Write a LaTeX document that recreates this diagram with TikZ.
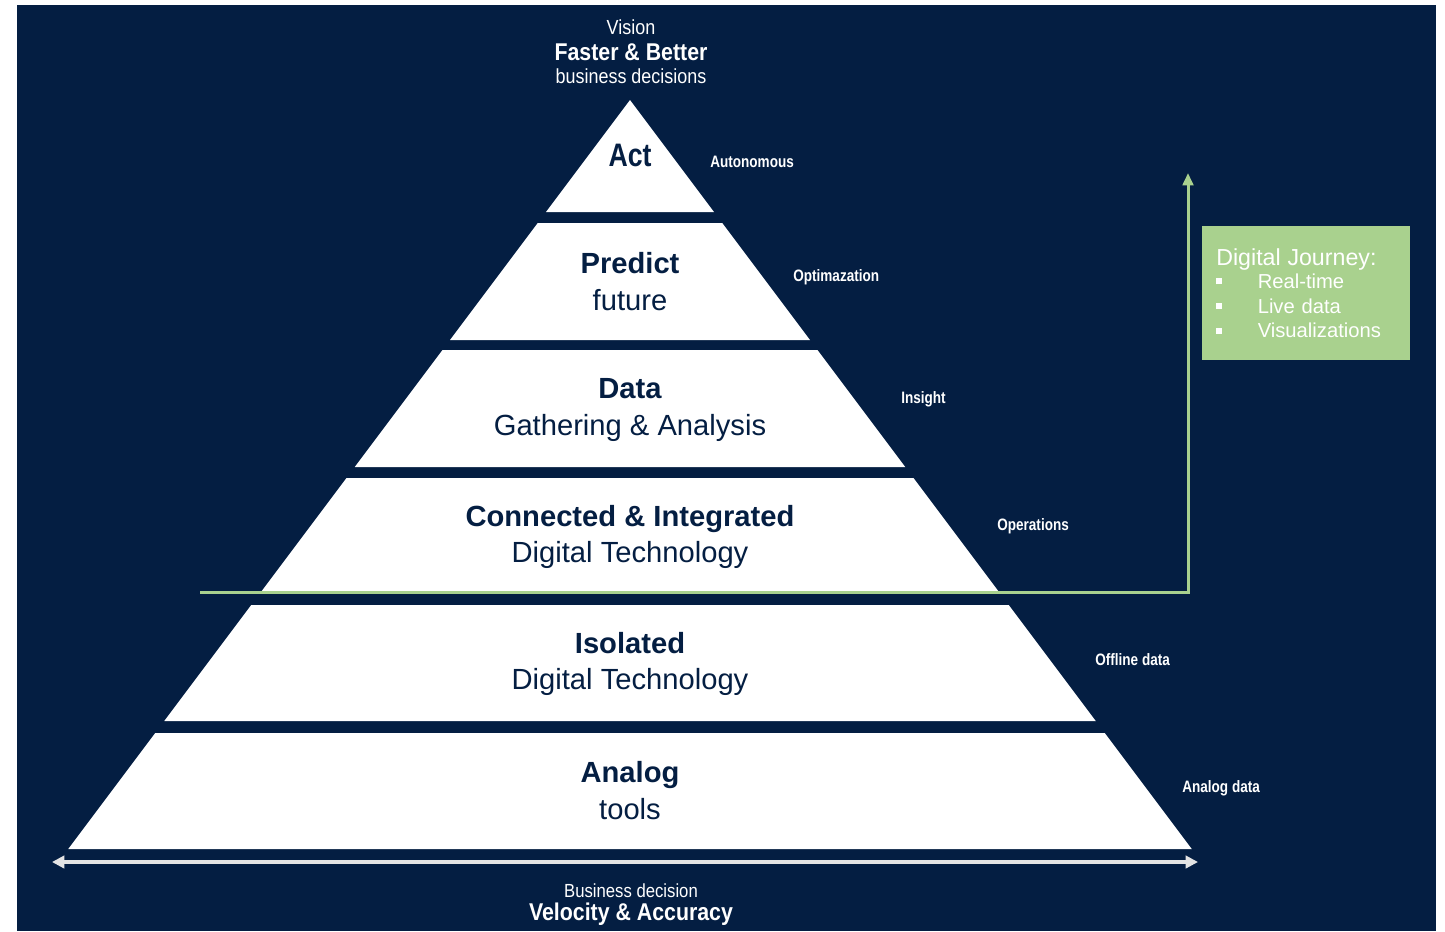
\documentclass[tikz,border=0pt]{standalone}
\usepackage{fontspec}
\setsansfont{Liberation Sans}
\newfontfamily\narrowfont[FakeStretch=0.82]{Liberation Sans}
\newfontfamily\headfont[FakeStretch=0.88]{Liberation Sans}
\usetikzlibrary{arrows.meta}

\definecolor{navy}{RGB}{4,30,66}
\definecolor{journeygreen}{RGB}{169,209,142}
\definecolor{scalegrey}{RGB}{228,228,228}

\tikzset{
  tier/.style={fill=white},
  tiertext/.style={text=navy, align=center, inner sep=0pt,
    font=\sffamily\fontsize{16.6}{21}\selectfont},
  sidelabel/.style={text=white, anchor=west, inner sep=0pt,
    font=\narrowfont\bfseries\fontsize{9.4}{11}\selectfont},
  headtext/.style={text=white, inner sep=0pt, font=\headfont\fontsize{11.6}{13}\selectfont},
  headbold/.style={text=white, inner sep=0pt, font=\headfont\bfseries\fontsize{13.8}{16}\selectfont},
  journey/.style={draw=journeygreen, line width=1.7pt,
    -{Triangle[length=7pt,width=6pt]}},
  scale line/.style={draw=scalegrey, line width=2pt,
    {Triangle[length=7pt,width=7pt]}-{Triangle[length=7pt,width=7pt]}},
  journeybox/.style={fill=journeygreen, text=white, anchor=north west,
    minimum width=4.16cm, minimum height=2.68cm, text width=3.6cm,
    align=left, inner sep=0pt,
    font=\sffamily\fontsize{11.5}{14}\selectfont},
}
\newcommand{\jbullet}{\rule[0.2em]{0.3em}{0.3em}\hspace{1.75em}}

\begin{document}
\begin{tikzpicture}[x=0.02cm, y=-0.02cm]
  \fill[white] (0,0) rectangle (1445,931);
  \useasboundingbox (0,0) rectangle (1445,931);
  \fill[navy] (17,5) rectangle (1436,931);

  % pyramid
  \fill[tier] (630,100) -- (714,212) -- (546,212) -- cycle;
  \fill[tier] (537.75,223) -- (722.25,223) -- (810,340) -- (450,340) -- cycle;
  \fill[tier] (442.5,350) -- (817.5,350) -- (905.25,467) -- (354.75,467) -- cycle;
  \fill[tier] (346.5,478) -- (913.5,478) -- (999,592) -- (261,592) -- cycle;
  \fill[tier] (251.25,605) -- (1008.75,605) -- (1095.75,721) -- (164.25,721) -- cycle;
  \fill[tier] (155.25,733) -- (1104.75,733) -- (1191.75,849) -- (68.25,849) -- cycle;

  \node (act) at (630,155) [tiertext, font=\narrowfont\bfseries\fontsize{18.5}{21}\selectfont] {Act};
  \node (predict) at (630,282) [tiertext] {\textbf{Predict}\\future};
  \node (data) at (630,410) [tiertext] {\textbf{Data}\\Gathering \& Analysis};
  \node (connected) at (630,537) [tiertext] {\textbf{Connected \& Integrated}\\Digital Technology};
  \node (isolated) at (630,664) [tiertext] {\textbf{Isolated}\\Digital Technology};
  \node (analog) at (630,791) [tiertext] {\textbf{Analog}\\tools};

  % levels
  \node (autonomous) at (710,162) [sidelabel] {Autonomous};
  \node (optim) at (793,277) [sidelabel] {Optimazation};
  \node (insight) at (901,399) [sidelabel] {Insight};
  \node (operations) at (997,526) [sidelabel] {Operations};
  \node (offline) at (1095,660) [sidelabel] {Offline data};
  \node (analogdata) at (1182,788) [sidelabel] {Analog data};

  % vision on top
  \node (vision) at (631,27) [headtext] {Vision};
  \node (faster) at (631,52) [headbold] {Faster \& Better};
  \node (decisions) at (631,76) [headtext] {business decisions};

  % digital journey
  \coordinate (jstart) at (200,592);
  \coordinate (jtop) at (1188,173);
  \draw[journey] (jstart) -| (jtop);
  \node (journeytext) at (1202,226) [journeybox]
    {{\fontsize{13.2}{15}\selectfont Digital Journey:}\\[-1pt]
     \jbullet Real-time\\
     \jbullet Live data\\
     \jbullet Visualizations};

  % business decision scale
  \coordinate (scaleleft) at (52,862);
  \coordinate (scaleright) at (1198,862);
  \draw[scale line] (scaleleft) -- (scaleright);
  \node (business) at (631,891) [headtext, font=\headfont\fontsize{10.8}{13}\selectfont] {Business decision};
  \node (velocity) at (631,914) [headbold] {Velocity \& Accuracy};
\end{tikzpicture}
\end{document}
